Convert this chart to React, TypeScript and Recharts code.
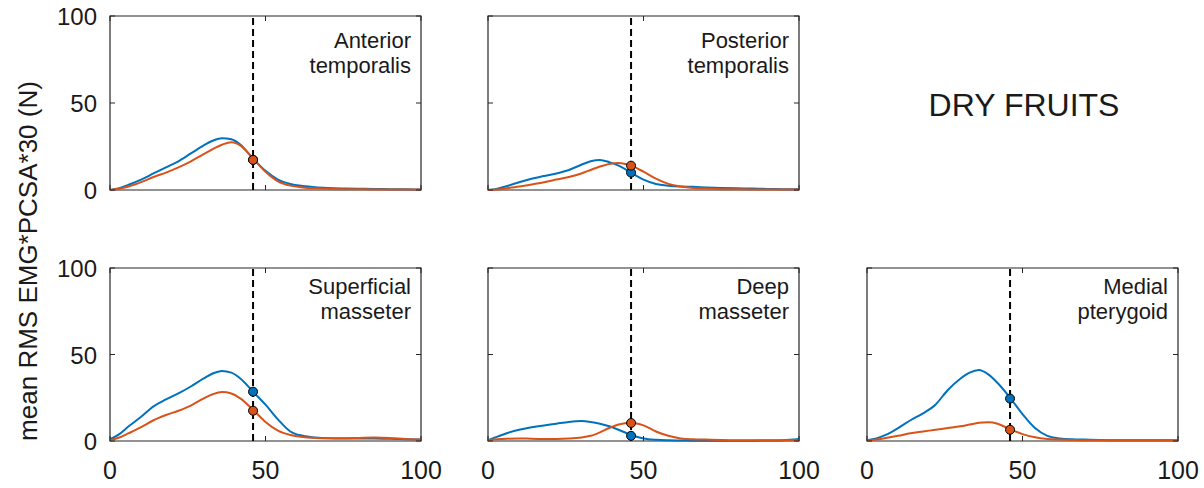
import React from "react";
import {
  LineChart,
  Line,
  XAxis,
  YAxis,
  ReferenceArea,
  ReferenceLine,
  ReferenceDot,
} from "recharts";

// ---------- data ----------
const X = [0, 3, 6, 10, 14, 18, 22, 26, 30, 33, 36, 39, 42, 46, 50, 54, 58, 62, 66, 70, 75, 80, 85, 90, 95, 100];

const antTempBlue = [0, 1, 3, 6, 9.5, 13, 16.5, 21, 25.5, 28.3, 29.8, 29.2, 26, 18, 11, 6, 3.5, 2.3, 1.6, 1.2, 0.9, 0.7, 0.6, 0.5, 0.4, 0.3];
const antTempOrange = [0, 0.7, 2, 4.5, 7.5, 10, 13, 16.5, 20.5, 23.5, 26, 27.5, 25.5, 18, 10.5, 5, 2.5, 1.5, 1, 0.7, 0.5, 0.4, 0.3, 0.3, 0.3, 0.3];

const postTempBlue = [0, 0.8, 2.2, 4.5, 6.5, 8, 9.5, 11.5, 14.5, 16.5, 17.3, 16, 14, 10, 6, 3.5, 2.5, 2, 1.8, 1.5, 1.2, 1, 0.8, 0.6, 0.5, 0.4];
const postTempOrange = [0, 0.3, 1, 2, 3.2, 4.5, 6, 7.5, 9.5, 11.5, 13.5, 15, 15.5, 14, 10.5, 6.5, 3.5, 2, 1.2, 0.8, 0.5, 0.4, 0.3, 0.3, 0.3, 0.3];

const supMassBlue = [1, 4, 8.5, 14, 20, 24, 27.5, 31.5, 36, 39, 40.5, 39.5, 36, 28.5, 21, 12.5, 5.5, 3, 2, 1.6, 1.5, 1.5, 1.5, 1.3, 1, 0.8];
const supMassOrange = [0.5, 2, 4.5, 8, 12, 15, 17.5, 20.5, 24.5, 27, 28.3, 27.5, 24.5, 18, 11, 6, 3.5, 2.3, 1.8, 1.6, 1.6, 1.8, 2, 1.8, 1.2, 0.8];

const deepMassBlue = [0.5, 2.5, 4.5, 6.5, 8, 9, 10, 11, 11.5, 11, 10, 8.5, 6.5, 3.5, 1.5, 0.7, 0.4, 0.3, 0.2, 0.2, 0.2, 0.2, 0.2, 0.3, 0.5, 1.2];
const deepMassOrange = [0.5, 1, 1.3, 1.5, 1.3, 1.2, 1.2, 1.4, 2, 3, 5, 7.5, 9.5, 10.5, 9, 5.5, 3, 1.5, 1, 0.8, 0.6, 0.5, 0.5, 0.5, 0.5, 0.5];

const medPteryBlue = [0.5, 1.5, 3.5, 7.5, 12, 16, 21, 29.5, 36, 39.5, 41, 38.5, 33.5, 25, 15.5, 7.5, 3, 1.5, 1, 0.8, 0.6, 0.5, 0.5, 0.5, 0.5, 0.5];
const medPteryOrange = [0.3, 0.8, 1.7, 3, 4.5, 5.5, 6.5, 7.5, 8.5, 9.5, 10.5, 10.8, 10, 6.8, 4, 2.2, 1.2, 0.8, 0.6, 0.5, 0.5, 0.5, 0.5, 0.5, 0.5, 0.5];

// dot values at the dashed marker
const markerX = 46;
const dotBlue = [17.3, 10, 28.5, 3, 24.5];
const dotOrange = [17.3, 14, 17.5, 10.4, 6.5];

const panelTitles = [
  ["Anterior", "temporalis"],
  ["Posterior", "temporalis"],
  ["Superficial", "masseter"],
  ["Deep", "masseter"],
  ["Medial", "pterygoid"],
];

const xTicks = [0, 50, 100];
const yTicks = [0, 50, 100];
const yLabel = "mean RMS EMG*PCSA*30 (N)";
const groupLabel = "DRY FRUITS";

// ---------- styling / layout ----------
const BLUE = "#0072BD";
const ORANGE = "#D95319";
const AX = "#262626";
const TXT = "#1a1a1a";
const FONT = "'Liberation Sans', Arial, Helvetica, sans-serif";

const YW = 110; // space left of plot inside each chart
const TOPM = 16;
const XH = 46;
const RIGHTM = 30;
const PW = 311;

const panels = [
  { px: 110, py: 16, ph: 174, blue: antTempBlue, orange: antTempOrange, yLabels: true, xLabels: false },
  { px: 488, py: 16, ph: 174, blue: postTempBlue, orange: postTempOrange, yLabels: false, xLabels: false },
  { px: 110, py: 268, ph: 173, blue: supMassBlue, orange: supMassOrange, yLabels: true, xLabels: true },
  { px: 488, py: 268, ph: 173, blue: deepMassBlue, orange: deepMassOrange, yLabels: false, xLabels: true },
  { px: 867, py: 268, ph: 173, blue: medPteryBlue, orange: medPteryOrange, yLabels: false, xLabels: true },
];

const makeXTick = (ph: number, show: boolean) => (props: any) => {
  const { x, y, payload } = props;
  return (
    <g>
      <line x1={x} y1={y} x2={x} y2={y - 5} stroke={AX} strokeWidth={1} />
      <line x1={x} y1={y - ph} x2={x} y2={y - ph + 5} stroke={AX} strokeWidth={1} />
      {show && (
        <text x={x} y={y + 38} textAnchor="middle" fontSize={25} fill={TXT} fontFamily={FONT}>
          {payload.value}
        </text>
      )}
    </g>
  );
};

const makeYTick = (pw: number, show: boolean) => (props: any) => {
  const { x, y, payload } = props;
  return (
    <g>
      <line x1={x} y1={y} x2={x + 5} y2={y} stroke={AX} strokeWidth={1} />
      <line x1={x + pw} y1={y} x2={x + pw - 5} y2={y} stroke={AX} strokeWidth={1} />
      {show && (
        <text x={x - 13} y={y + 9} textAnchor="end" fontSize={24} fill={TXT} fontFamily={FONT}>
          {payload.value}
        </text>
      )}
    </g>
  );
};

function Panel({ idx }: { idx: number }) {
  const p = panels[idx];
  const rows = X.map((x, i) => ({ x, blue: p.blue[i], orange: p.orange[i] }));
  const w = YW + PW + RIGHTM;
  const h = TOPM + p.ph + XH;
  return (
    <div style={{ position: "absolute", left: p.px - YW, top: p.py - TOPM, width: w, height: h }}>
      <LineChart width={w} height={h} data={rows} margin={{ top: TOPM, right: RIGHTM, left: 0, bottom: 0 }}>
        <XAxis
          dataKey="x"
          type="number"
          domain={[0, 100]}
          ticks={xTicks}
          interval={0}
          height={XH}
          axisLine={false}
          tickLine={false}
          tickSize={0}
          tickMargin={0}
          tick={makeXTick(p.ph, p.xLabels)}
        />
        <YAxis
          type="number"
          domain={[0, 100]}
          ticks={yTicks}
          interval={0}
          width={YW}
          axisLine={false}
          tickLine={false}
          tickSize={0}
          tickMargin={0}
          tick={makeYTick(PW, p.yLabels)}
        />
        <ReferenceArea x1={0} x2={100} y1={0} y2={100} fill="none" fillOpacity={0} stroke={AX} strokeWidth={1.2} ifOverflow="visible" />
        <Line type="monotone" dataKey="blue" stroke={BLUE} strokeWidth={2} dot={false} isAnimationActive={false} />
        <Line type="monotone" dataKey="orange" stroke={ORANGE} strokeWidth={2} dot={false} isAnimationActive={false} />
        <ReferenceLine x={markerX} stroke="#000" strokeWidth={2} strokeDasharray="7 4" />
        <ReferenceDot x={markerX} y={dotBlue[idx]} r={4.5} fill={BLUE} stroke="#000" strokeWidth={1} />
        <ReferenceDot x={markerX} y={dotOrange[idx]} r={4.5} fill={ORANGE} stroke="#000" strokeWidth={1} />
      </LineChart>
    </div>
  );
}

export default function App() {
  return (
    <div
      style={{
        position: "absolute",
        left: 0,
        top: 0,
        width: 1204,
        height: 488,
        overflow: "hidden",
        background: "#fff",
        fontFamily: FONT,
      }}
    >
      {panels.map((_, i) => (
        <Panel key={i} idx={i} />
      ))}
      <svg width={1204} height={488} style={{ position: "absolute", left: 0, top: 0, pointerEvents: "none" }}>
        <text
          x={37}
          y={261}
          transform="rotate(-90 37 261)"
          textAnchor="middle"
          fontSize={26}
          fill={TXT}
          fontFamily={FONT}
        >
          {yLabel}
        </text>
        <text x={1024} y={116} textAnchor="middle" fontSize={32} fill={TXT} fontFamily={FONT}>
          {groupLabel}
        </text>
        {panels.map((p, i) => {
          const right = p.px + PW - 10;
          const b1 = p.py < 100 ? 48 : 294;
          return (
            <g key={i}>
              <text x={right} y={b1} textAnchor="end" fontSize={22} fill={TXT} fontFamily={FONT}>
                {panelTitles[i][0]}
              </text>
              <text x={right} y={b1 + 25} textAnchor="end" fontSize={22} fill={TXT} fontFamily={FONT}>
                {panelTitles[i][1]}
              </text>
            </g>
          );
        })}
      </svg>
    </div>
  );
}
